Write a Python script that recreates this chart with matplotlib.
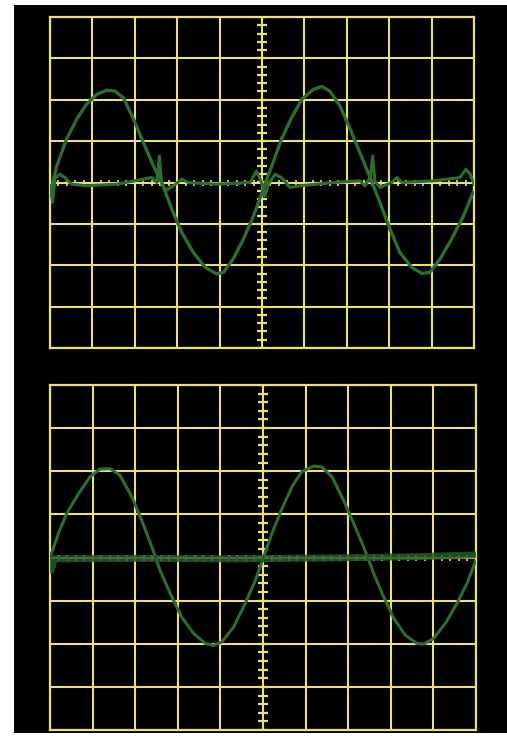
import numpy as np
import matplotlib
matplotlib.use("Agg")
import matplotlib.pyplot as plt

# top screen: distorted sine (divisions)
top_sine_x = [0.04, 0.16, 0.39, 0.63, 0.86, 1.10, 1.34, 1.53, 1.73, 1.97, 2.20, 2.44,
              2.67, 2.87, 3.11, 3.38, 3.66, 3.93, 4.09, 4.32, 4.56, 4.80, 5.03, 5.23,
              5.46, 5.70, 5.94, 6.21, 6.41, 6.60, 6.84, 7.08, 7.31, 7.55, 7.78, 8.02,
              8.25, 8.53, 8.77, 8.96, 9.20, 9.47, 9.75, 9.98]
top_sine_y = [-0.12, 0.40, 1.05, 1.53, 1.89, 2.13, 2.23, 2.21, 2.05, 1.53, 0.97, 0.40,
              -0.08, -0.64, -1.21, -1.69, -2.05, -2.21, -2.17, -1.85, -1.37, -0.81, -0.16, 0.40,
              1.05, 1.57, 2.01, 2.25, 2.32, 2.21, 1.85, 1.29, 0.72, 0.12, -0.48, -1.13,
              -1.69, -2.05, -2.20, -2.17, -1.85, -1.37, -0.81, -0.24]

# top screen: baseline with switching glitches
top_flat_x = [0.00, 0.06, 0.12, 0.24, 0.35, 0.51, 0.86, 1.57, 2.20, 2.40, 2.52, 2.58,
              2.63, 2.71, 2.91, 3.11, 3.26, 3.93, 4.72, 4.87, 4.99, 5.07, 5.15, 5.31,
              5.46, 5.66, 5.90, 6.68, 7.31, 7.43, 7.55, 7.61, 7.66, 7.78, 8.06, 8.18,
              8.30, 9.04, 9.67, 9.81, 9.91, 10.0]
top_flat_y = [-0.08, -0.48, 0.12, 0.20, 0.12, -0.04, -0.08, -0.04, 0.08, 0.12, 0.00, 0.64,
              0.00, -0.20, -0.08, 0.08, 0.00, -0.04, 0.00, 0.28, 0.00, -0.32, -0.04, 0.20,
              0.12, -0.12, -0.08, 0.00, 0.04, -0.08, 0.12, 0.64, 0.04, -0.12, 0.00, 0.12,
              0.00, 0.04, 0.12, 0.32, 0.20, -0.04]

# bottom screen: clean sine
bot_sine_x = [0.00, 0.20, 0.39, 0.67, 0.94, 1.17, 1.41, 1.64, 1.92, 2.15, 2.39, 2.58,
              2.82, 3.09, 3.37, 3.64, 3.84, 4.03, 4.31, 4.58, 4.82, 5.01, 5.21, 5.44,
              5.68, 5.91, 6.19, 6.38, 6.62, 6.89, 7.13, 7.36, 7.60, 7.83, 8.07, 8.34,
              8.61, 8.77, 9.00, 9.28, 9.55, 9.79, 9.98]
bot_sine_y = [0.00, 0.56, 1.02, 1.48, 1.87, 2.05, 2.06, 1.91, 1.41, 0.87, 0.25, -0.29,
              -0.83, -1.38, -1.76, -1.99, -2.04, -1.96, -1.61, -1.07, -0.53, 0.00, 0.56, 1.12,
              1.64, 1.99, 2.12, 2.10, 1.87, 1.33, 0.79, 0.25, -0.37, -0.91, -1.41, -1.80,
              -1.99, -2.01, -1.88, -1.53, -1.07, -0.60, -0.10]

# bottom screen: noisy baseline band
bot_flat_x = [0.00, 0.03, 0.10, 1.96, 4.31, 6.66, 8.61, 10.0]
bot_flat_y = [-0.02, -0.30, -0.03, -0.02, -0.03, -0.01, 0.02, 0.06]

GRID = "#e9e07c"
TRACE = "#2c6e30"
BAND = "#24592a"

fig = plt.figure(figsize=(5.07, 7.49), dpi=100)
fig.patch.set_facecolor("white")

# black bezel behind both screens
bezel = fig.add_axes([14 / 507, 16 / 749, 493 / 507, 728 / 749], zorder=-5)
bezel.set_facecolor("black")
bezel.set_xticks([])
bezel.set_yticks([])
for s in bezel.spines.values():
    s.set_visible(False)

ax_top = fig.add_axes([50 / 507, 401 / 749, 424 / 507, 331 / 749])
ax_bot = fig.add_axes([50 / 507, 19 / 749, 426 / 507, 345 / 749])


def screen(ax):
    ax.set_facecolor("black")
    ax.set_xlim(0, 10)
    ax.set_ylim(-4, 4)
    ax.set_xticks(range(11))
    ax.set_yticks(range(-4, 5))
    ax.tick_params(length=0, labelbottom=False, labelleft=False)
    ax.grid(True, color=GRID, lw=1.5)
    for s in ax.spines.values():
        s.set_color(GRID)
        s.set_linewidth(1.6)
    minor_v = np.arange(-4, 4.01, 0.2)
    minor_h = np.arange(0, 10.01, 0.2)
    ax.plot(np.full(len(minor_v), 5.0), minor_v, ls="none", marker="_",
            ms=7, mew=1.6, color=GRID, zorder=2)
    ax.plot(minor_h, np.zeros(len(minor_h)), ls="none", marker="|",
            ms=4, mew=1.2, color=GRID, zorder=2)


screen(ax_top)
screen(ax_bot)

ax_top.plot(top_sine_x, top_sine_y, color=TRACE, lw=2.4, zorder=3,
            solid_joinstyle="round")
ax_top.plot(top_flat_x, top_flat_y, color=TRACE, lw=2.2, zorder=3,
            solid_joinstyle="round")

ax_bot.plot(bot_sine_x, bot_sine_y, color=TRACE, lw=2.2, zorder=3,
            solid_joinstyle="round")
ax_bot.plot(bot_flat_x, bot_flat_y, color=BAND, lw=5.0, alpha=0.85, zorder=3,
            solid_joinstyle="round")

fig.savefig("out.png", dpi=100, facecolor=fig.get_facecolor())
